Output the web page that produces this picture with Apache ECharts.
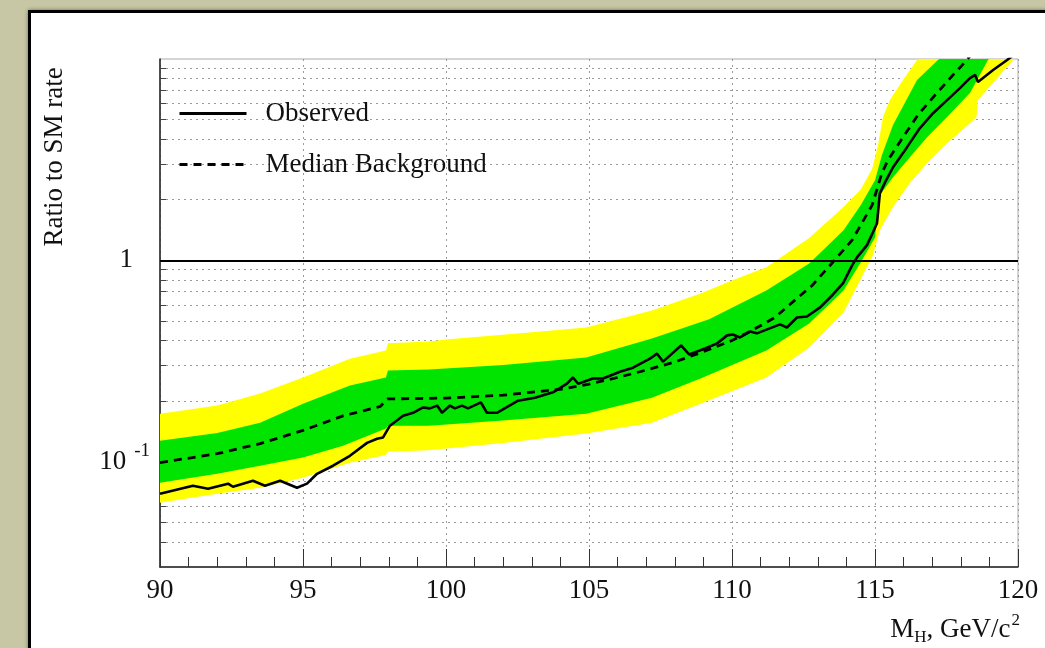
<!DOCTYPE html>
<html>
<head>
<meta charset="utf-8">
<title>Ratio to SM rate</title>
<script src="https://cdn.jsdelivr.net/npm/echarts@6/dist/echarts.min.js"></script>
<style>
  html, body {
    margin: 0;
    padding: 0;
    width: 1045px;
    height: 648px;
    overflow: hidden;
    background: #c8c7a5;
  }
  .card {
    position: absolute;
    left: 28px;
    top: 10px;
    width: 1100px;
    height: 700px;
    background: #fff;
    border: 3px solid #000;
    box-shadow: 0 0 4px rgba(0, 0, 0, 0.45);
  }
  #chart {
    position: absolute;
    left: 0;
    top: 0;
    width: 1045px;
    height: 648px;
  }
</style>
</head>
<body>
<div class="card"></div>
<div id="chart"></div>
<script>
// values: [M_H, ratio]
const observed = [
  [90.0, 0.0693], [91.15, 0.076], [91.68, 0.0734], [92.38, 0.0778], [92.55, 0.0751],
  [93.25, 0.0804], [93.67, 0.076], [94.2, 0.0804], [94.79, 0.0743], [95.14, 0.0778],
  [95.49, 0.0871], [96.05, 0.0955], [96.64, 0.107], [97.24, 0.124], [97.59, 0.13],
  [97.8, 0.132], [98.04, 0.151], [98.5, 0.169], [98.85, 0.175], [99.2, 0.186],
  [99.44, 0.184], [99.69, 0.19], [99.86, 0.175], [100.14, 0.19], [100.31, 0.184],
  [100.56, 0.19], [100.77, 0.184], [101.22, 0.197], [101.43, 0.175], [101.78, 0.175],
  [102.52, 0.201], [103.11, 0.208], [103.74, 0.221], [104.23, 0.244], [104.44, 0.262],
  [104.62, 0.244], [105.14, 0.259], [105.49, 0.259], [106.08, 0.28], [106.54, 0.293],
  [107.13, 0.325], [107.38, 0.344], [107.59, 0.314], [108.22, 0.378], [108.5, 0.341],
  [109.06, 0.365], [109.48, 0.387], [109.83, 0.424], [110.03, 0.428], [110.28, 0.414],
  [110.63, 0.443], [110.87, 0.434], [111.68, 0.481], [111.92, 0.464], [112.27, 0.52],
  [112.62, 0.526], [113.08, 0.584], [113.53, 0.677], [113.88, 0.768], [114.2, 0.944],
  [114.37, 1.035], [114.72, 1.19], [114.93, 1.38], [115.07, 1.53], [115.17, 2.15],
  [115.35, 2.44], [115.63, 2.9], [116.12, 3.65], [116.57, 4.54], [117.03, 5.38],
  [117.52, 6.25], [117.97, 7.17], [118.32, 8.04], [118.5, 8.33], [118.6, 7.69],
  [119.13, 8.82], [119.62, 9.89], [119.9, 10.6]
];

const medianBkg = [
  [90, 0.099], [92, 0.1096], [93.5, 0.123], [95, 0.143], [96.4, 0.169], [97.7, 0.188],
  [97.95, 0.205], [100, 0.207], [102, 0.214], [104, 0.229], [105, 0.243], [106, 0.262],
  [107, 0.285], [108, 0.313], [109, 0.352], [110, 0.4], [110.7, 0.449], [111.5, 0.52],
  [112, 0.6], [112.8, 0.75], [113.5, 0.97], [114.2, 1.26], [114.9, 1.88], [115.24, 2.71],
  [115.45, 3.14], [115.98, 4.09], [116.5, 5.27], [117.1, 6.62], [117.73, 8.34],
  [118.04, 9.3], [118.6, 11.5]
];

// 1 sigma band (green)
const greenUpper = [
  [90, 0.127], [92, 0.139], [93.5, 0.156], [95, 0.194], [96.64, 0.239], [97.9, 0.262],
  [97.97, 0.284], [99.4, 0.287], [102, 0.302], [104.9, 0.329], [107.2, 0.409],
  [109.2, 0.51], [111.2, 0.709], [112.7, 0.966], [113.9, 1.41], [114.5, 1.88],
  [115.0, 2.5], [115.24, 3.33], [115.63, 4.7], [116.47, 7.87], [117.2, 9.89], [117.6, 10.8]
];
const greenLower = [
  [90, 0.0786], [92, 0.0871], [93.5, 0.0955], [95, 0.105], [96.4, 0.12], [97.9, 0.146],
  [97.97, 0.151], [99.4, 0.151], [102, 0.16], [104.9, 0.173], [107.2, 0.208],
  [108.9, 0.259], [111.2, 0.357], [112.7, 0.486], [113.9, 0.709], [114.5, 0.977],
  [115.0, 1.3], [115.17, 2.11], [115.63, 2.59], [116.22, 3.25], [116.82, 4.09],
  [117.52, 5.15], [118.32, 6.77], [118.95, 9.89], [119.4, 11.1]
];

// 2 sigma band (yellow)
const yellowUpper = [
  [90, 0.173], [92, 0.19], [93.5, 0.218], [95, 0.262], [96.64, 0.325], [97.9, 0.357],
  [97.97, 0.387], [99.4, 0.395], [100, 0.405], [102.9, 0.438], [104.9, 0.464],
  [107.2, 0.564], [108.9, 0.685], [110, 0.795], [111.2, 0.923], [112.7, 1.29],
  [113.9, 1.84], [114.5, 2.25], [114.9, 2.85], [115.1, 3.7], [115.28, 5.15], [115.52, 6.25],
  [115.98, 7.87], [116.47, 9.89], [116.9, 11.7]
];
const yellowLower = [
  [90, 0.0625], [92, 0.0693], [93.5, 0.0743], [95, 0.0832], [96.64, 0.0989], [97.9, 0.108],
  [97.97, 0.112], [99.4, 0.114], [102, 0.124], [104.9, 0.138], [107.2, 0.156],
  [108.9, 0.194], [111.2, 0.262], [112.7, 0.369], [113.9, 0.551], [114.93, 1.06],
  [115.17, 1.41], [115.63, 1.84], [116.22, 2.42], [116.82, 3.04], [117.52, 3.82],
  [118.32, 4.8], [118.55, 5.15], [118.6, 6.25], [119.37, 8.33], [119.83, 9.89], [120, 10.5]
];

// axis ticks
const yTickValues = [0.04, 0.05, 0.06, 0.07, 0.08, 0.09, 0.1, 0.2, 0.3, 0.4, 0.5, 0.6, 0.7, 0.8, 0.9, 1, 2, 3, 4, 5, 6, 7, 8, 9];
const yLabelValues = [0.1, 1];
const smLine = 1;

const font = '"Liberation Serif", "DejaVu Serif", serif';
const ink = '#111';

const chart = echarts.init(document.getElementById('chart'));

// band = upper edge left to right, then lower edge back
function band(upper, lower, color) {
  return function (params, api) {
    const pts = upper.map(p => api.coord(p))
      .concat(lower.slice().reverse().map(p => api.coord(p)));
    return { type: 'polygon', shape: { points: pts }, style: { fill: color } };
  };
}

const option = {
  animation: false,
  backgroundColor: 'transparent',
  grid: {
    left: 160,
    right: 27,
    top: 59,
    bottom: 81,
    show: true,
    borderColor: '#aaa',
    borderWidth: 1,
    outerBoundsMode: 'none'
  },
  legend: {
    left: 178,
    top: 100,
    padding: 0,
    orient: 'vertical',
    itemWidth: 67,
    itemHeight: 12,
    itemGap: 24,
    selectedMode: false,
    data: ['Observed', 'Median Background'],
    // hide the dot, keep the line sample
    itemStyle: { opacity: 0 },
    lineStyle: { width: 3 },
    textStyle: { fontFamily: font, fontSize: 27, color: ink, padding: [0, 0, 0, 14] }
  },
  xAxis: {
    type: 'value',
    min: 90,
    max: 120,
    interval: 5,
    axisLine: { lineStyle: { color: '#222', width: 1.5 } },
    axisTick: { inside: true, length: 18, lineStyle: { color: '#333' } },
    minorTick: { show: true, splitNumber: 5, length: 10, lineStyle: { color: '#333' } },
    axisLabel: { fontFamily: font, fontSize: 27, color: ink, margin: 10 },
    splitLine: { show: true, lineStyle: { color: '#9a9a9a', type: [2, 4], width: 1 } },
    minorSplitLine: { show: false }
  },
  yAxis: {
    type: 'log',
    logBase: 10,
    min: 0.03,
    max: 10,
    axisLine: { show: true, lineStyle: { color: '#222', width: 1.5 } },
    axisTick: { show: true, inside: true, length: 6, customValues: yTickValues, lineStyle: { color: '#444' } },
    axisLabel: {
      customValues: yLabelValues,
      margin: 10,
      formatter: function (v) {
        if (Math.abs(v - 1) < 1e-9) return '{one|1}';
        return '{n|10}{e|-1}';
      },
      rich: {
        one: { fontFamily: font, fontSize: 27, color: ink, padding: [0, 17, 0, 0] },
        n: { fontFamily: font, fontSize: 27, color: ink },
        e: { fontFamily: font, fontSize: 19, color: ink, padding: [0, 0, 22, 8] }
      }
    },
    splitLine: { show: true, lineStyle: { color: '#9a9a9a', type: [2, 4], width: 1 } }
  },
  graphic: [
    {
      type: 'text',
      x: 55,
      y: 157,
      rotation: Math.PI / 2,
      style: {
        text: 'Ratio to SM rate',
        font: '27px ' + font,
        fill: ink,
        align: 'center',
        verticalAlign: 'middle'
      }
    },
    {
      type: 'text',
      x: 1020,
      y: 630,
      style: {
        text: '{m|M}{h|H}{m|, GeV/c}{s|2}',
        align: 'right',
        verticalAlign: 'middle',
        rich: {
          m: { fontFamily: font, fontSize: 27, fill: ink },
          h: { fontFamily: font, fontSize: 17, fill: ink, padding: [16, 0, 0, 0] },
          s: { fontFamily: font, fontSize: 17, fill: ink, padding: [0, 0, 18, 1] }
        }
      }
    }
  ],
  series: [
    {
      name: '2 sigma',
      type: 'custom',
      clip: true,
      silent: true,
      z: 1,
      renderItem: band(yellowUpper, yellowLower, '#ffff00'),
      data: [[90, 1]]
    },
    {
      name: '1 sigma',
      type: 'custom',
      clip: true,
      silent: true,
      z: 2,
      renderItem: band(greenUpper, greenLower, '#00e400'),
      data: [[90, 1]]
    },
    {
      name: 'Median Background',
      type: 'line',
      z: 3,
      symbol: 'none',
      data: medianBkg,
      lineStyle: { color: '#000', width: 2.8, type: [8, 6] },
      itemStyle: { color: '#000' }
    },
    {
      name: 'Observed',
      type: 'line',
      z: 4,
      symbol: 'none',
      data: observed,
      lineStyle: { color: '#000', width: 2.6 },
      itemStyle: { color: '#000' },
      markLine: {
        silent: true,
        symbol: 'none',
        label: { show: false },
        lineStyle: { color: '#000', width: 2, type: 'solid' },
        data: [{ yAxis: smLine }]
      }
    }
  ]
};

chart.setOption(option);
</script>
</body>
</html>
